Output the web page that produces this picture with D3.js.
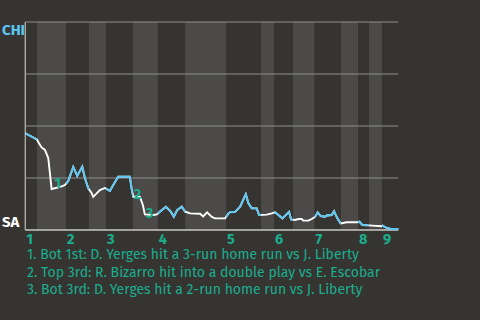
<!DOCTYPE html>
<html><head><meta charset="utf-8">
<script src="https://cdn.jsdelivr.net/npm/d3@7"></script>
<style>
html,body{margin:0;padding:0;background:#363431;}
svg{display:block;}
text{font-family:"Fira Sans","Lato","Open Sans",sans-serif;}
</style></head><body>
<svg id="c" width="480" height="320"></svg>
<script>
// ---- data ----
const progress = [0,3.5,4.1,4.9,5.9,6.9,7.9,9.4,10.9,11.9,12.9,14.4,15.6,17.1,17.9,18.9,19.9,20.4,22.4,23.9,25.4,26.4,27.9,31.4,31.9,32.4,34.4,35.3,35.9,38.4,39.5,40.4,42.2,43.7,44.6,45.6,47.0,48.0,49.5,52.5,53.4,54.6,56.0,57.0,60.0,61.0,61.7,63.0,64.5,66.2,67.0,68.0,69.5,70.2,72.5,74.0,75.0,76.0,77.2,79.2,79.8,81.0,82.0,83.0,83.5,85.0,86.0,87.0,87.8,88.7,90.0,90.5,92.0,92.7,93.7,94.7,96.5,99.7,100.3,101.2,103.0,107.0,107.3,108.3,109.7,112];
const chiWinPct = [46.5,43.5,41.7,39.7,38.5,34.6,19.7,20.3,21.0,21.6,23.6,30.3,26.0,30.5,25.0,20.0,17.8,15.9,19.2,20.2,18.8,21.6,25.6,25.6,20.2,16.0,16.0,12.0,7.5,7.2,7.5,8.8,11.2,8.8,6.4,9.6,11.2,8.8,8.0,7.8,6.5,8.5,6.3,5.6,5.6,8.0,8.7,8.7,11.2,17.2,12.8,10.4,10.4,7.2,7.4,8.0,8.5,7.2,5.6,8.7,5.1,4.8,5.3,5.3,4.5,4.5,5.3,6.3,8.5,6.7,6.4,7.0,7.2,9.0,5.6,3.2,3.7,3.7,4.0,2.4,2.2,1.8,2.1,1.1,0.5,0.5];
const innings = ["1","2","3","4","5","6","7","8","9"];
const topStart = [0,12.2,24.2,39.8,60.3,74.7,86.8,99.9,107.1];
const botStart = [3.5,19.1,32.3,48.0,70.8,80.4,94.8,103.2,null];
const gameEnd = 112;
const yTicks = [0,25,50,75,100];
const annLabels = ["1","2","3"];
const annX = [8.7,32.6,36.2];
const annY = [20.2,14.9,5.6];
const legendLines = [
  "1. Bot 1st: D. Yerges hit a 3-run home run vs J. Liberty",
  "2. Top 3rd: R. Bizarro hit into a double play vs E. Escobar",
  "3. Bot 3rd: D. Yerges hit a 2-run home run vs J. Liberty"
];
const awayTeam = "CHI", homeTeam = "SA";

// ---- drawing ----
const svg = d3.select("#c");
const x = d3.scaleLinear().domain([0, gameEnd]).range([25.3, 398.3]);
const y = d3.scaleLinear().domain([0, 100]).range([230, 22]);
const teal = "#1aad8e", blue = "#5cc6f2";

// bottom-half bands
const bands = innings.map((d,i)=>({i, s: botStart[i], e: i+1<innings.length ? topStart[i+1] : gameEnd})).filter(d=>d.s!=null);
svg.append("g").selectAll("rect").data(bands).join("rect")
  .attr("x", d=>x(d.s)).attr("y", y(100))
  .attr("width", d=>x(d.e)-x(d.s)).attr("height", y(0)-y(100))
  .attr("fill", "#4b4a48");

// gridlines
svg.append("g").selectAll("line").data(yTicks.filter(t=>t>0)).join("line")
  .attr("x1", x(0)).attr("x2", x(gameEnd)).attr("y1", d=>y(d)).attr("y2", d=>y(d))
  .attr("stroke", "#8e8d8b").attr("stroke-width", 1.2);
// axes
svg.append("line").attr("x1", x(0)).attr("x2", x(0)).attr("y1", y(100)).attr("y2", y(0))
  .attr("stroke", "#a9a8a6").attr("stroke-width", 1.4);
svg.append("line").attr("x1", x(0)).attr("x2", x(gameEnd)).attr("y1", y(0)).attr("y2", y(0))
  .attr("stroke", "#c9c8c6").attr("stroke-width", 1.4);

// line
const pts = progress.map((p,i)=>[p, chiWinPct[i]]);
const line = d3.line().x(d=>x(d[0])).y(d=>y(d[1]));
svg.append("path").attr("d", line(pts)).attr("fill","none").attr("stroke","#ffffff").attr("stroke-width",1.9);
// clip for top halves (blue)
const defs = svg.append("defs");
const cp = defs.append("clipPath").attr("id","topHalves");
cp.selectAll("rect").data(innings.map((d,i)=>({s: topStart[i], e: botStart[i]!=null ? botStart[i] : gameEnd}))).join("rect")
  .attr("x", d=>x(d.s)).attr("y", 0).attr("width", d=>x(d.e)-x(d.s)).attr("height", 320);
svg.append("path").attr("d", line(pts)).attr("fill","none").attr("stroke",blue).attr("stroke-width",1.9)
  .attr("clip-path","url(#topHalves)");

// annotation markers
svg.append("g").selectAll("text").data(annLabels).join("text")
  .attr("x", (d,i)=>x(annX[i])).attr("y", (d,i)=>y(annY[i]))
  .attr("fill", teal).attr("font-size", 14.5).attr("font-weight", 700).text(d=>d);

// inning labels
svg.append("g").selectAll("text").data(innings).join("text")
  .attr("x", (d,i)=>x(topStart[i])+1).attr("y", 244)
  .attr("fill", teal).attr("font-size", 14.5).attr("font-weight", 700).text(d=>d);

// team labels
svg.append("text").attr("x", 2).attr("y", 34.5).attr("fill", blue)
  .attr("font-size", 15).attr("font-weight", 700).text(awayTeam);
svg.append("text").attr("x", 2).attr("y", 226.5).attr("fill", "#ffffff")
  .attr("font-size", 15).attr("font-weight", 700).text(homeTeam);

// legend
svg.append("g").selectAll("text").data(legendLines).join("text")
  .attr("x", 27).attr("y", (d,i)=>259.3 + i*17.5)
  .attr("fill", teal).attr("font-size", 14).text(d=>d);
</script>
</body></html>
